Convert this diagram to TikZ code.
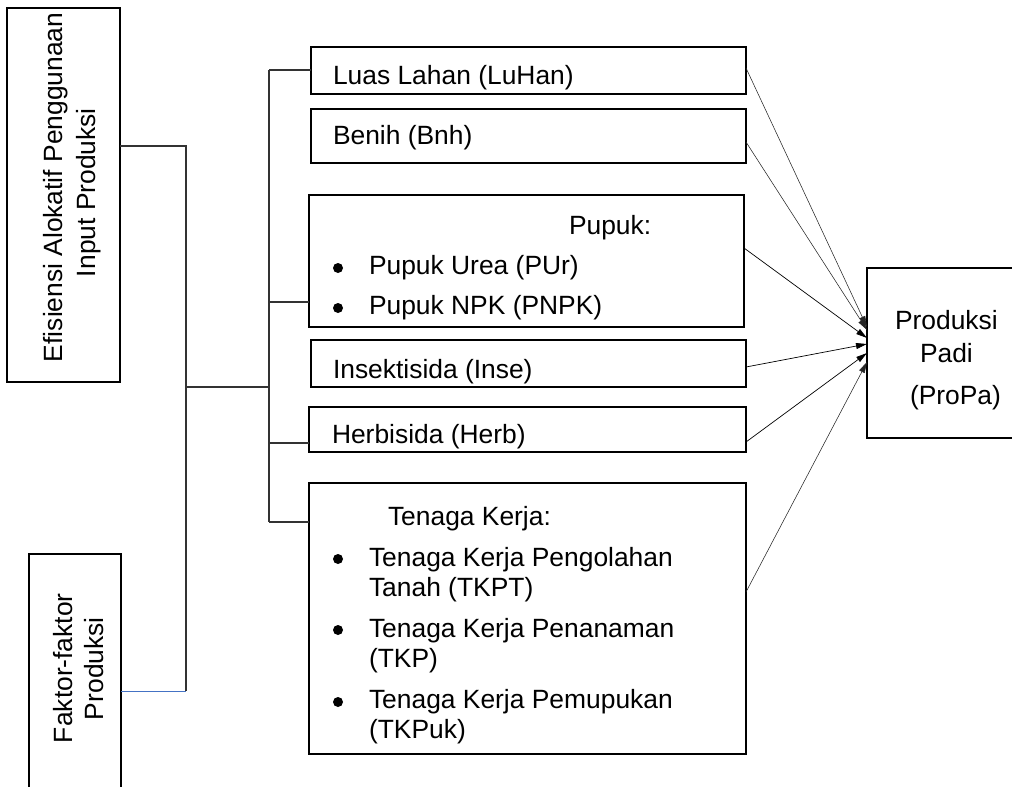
\documentclass[tikz,border=0pt]{standalone}
\usepackage{fontspec}
\setmainfont{Liberation Sans}
\usetikzlibrary{arrows.meta,calc}
\definecolor{wordblue}{RGB}{68,114,196}
\begin{document}
\begin{tikzpicture}[x=1bp,y=-1bp,
  box/.style={draw=black,line width=2.4bp,rectangle,inner sep=0pt,outer sep=0pt,anchor=north west},
  txt/.style={font=\fontsize{26.5pt}{30pt}\selectfont,inner sep=0pt,outer sep=0pt,anchor=base west},
  dot/.style={circle,fill=black,inner sep=0pt,minimum size=10bp},
  tree/.style={draw=black!80,line width=1.1bp},
  bluelink/.style={draw=wordblue,line width=1bp},
  arr/.style={draw=black,line width=0.7bp,-{Triangle[length=11bp,width=6bp]}},
  arrthin/.style={draw=black!85,line width=0.55bp,-{Triangle[length=11bp,width=6bp]}}]
\useasboundingbox (0,0) rectangle (1012,787);
\clip (0,0) rectangle (1012,787);

% boxes
\node[box,minimum width=113bp,minimum height=374bp] (efi) at (7,8) {};
\node[box,minimum width=92bp,minimum height=260bp] (fak) at (29,554) {};
\node[box,minimum width=435bp,minimum height=47bp] (luas) at (311,47) {};
\node[box,minimum width=435bp,minimum height=54bp] (benih) at (311,109) {};
\node[box,minimum width=435bp,minimum height=132bp] (pupuk) at (309,195) {};
\node[box,minimum width=435bp,minimum height=47bp] (inse) at (311,340) {};
\node[box,minimum width=437bp,minimum height=45bp] (herb) at (309,407) {};
\node[box,minimum width=437bp,minimum height=271bp] (tk) at (309,483) {};
\node[box,minimum width=170bp,minimum height=170bp] (prod) at (867,268) {};

% rotated texts
\node[txt,rotate=90] (efiA) at (62,362) {Efisiensi Alokatif Penggunaan};
\node[txt,rotate=90] (efiB) at (95,277) {Input Produksi};
\node[txt,rotate=90] (fakA) at (72,743) {Faktor-faktor};
\node[txt,rotate=90] (fakB) at (103,720) {Produksi};

% box texts
\node[txt] (tLuas) at (333,85) {Luas Lahan (LuHan)};
\node[txt] (tBenih) at (333,144) {Benih (Bnh)};
\node[txt] (tPupuk) at (569,234) {Pupuk:};
\node[dot] (d1) at (338,268) {};
\node[txt] (tPUr) at (369,274) {Pupuk Urea (PUr)};
\node[dot] (d2) at (338,308) {};
\node[txt] (tPNPK) at (369,314) {Pupuk NPK (PNPK)};
\node[txt] (tInse) at (333,378) {Insektisida (Inse)};
\node[txt] (tHerb) at (332,443) {Herbisida (Herb)};
\node[txt] (tTK) at (388,525) {Tenaga Kerja:};
\node[dot] (d3) at (338,559) {};
\node[txt] (tTK1) at (369,566) {Tenaga Kerja Pengolahan};
\node[txt] (tTK1b) at (369,596) {Tanah (TKPT)};
\node[dot] (d4) at (338,630) {};
\node[txt] (tTK2) at (369,637) {Tenaga Kerja Penanaman};
\node[txt] (tTK2b) at (369,667) {(TKP)};
\node[dot] (d5) at (338,702) {};
\node[txt] (tTK3) at (369,708) {Tenaga Kerja Pemupukan};
\node[txt] (tTK3b) at (369,738) {(TKPuk)};
\node[txt] (tProd1) at (895,329) {Produksi};
\node[txt] (tProd2) at (920,362) {Padi};
\node[txt] (tProd3) at (910,404) {(ProPa)};

% tree connectors
\coordinate (j1) at (186,146);
\coordinate (j2) at (186,691);
\coordinate (j3) at (186,387);
\coordinate (k0) at (269,387);
\coordinate (kL) at (269,70);
\coordinate (kP) at (269,302);
\coordinate (kH) at (269,443);
\coordinate (kT) at (269,522);
\draw[tree] (efi.north east |- j1) -- (j1) -- (j2);
\draw[bluelink] (fak.east |- j2) -- (j2);
\draw[tree] (j3) -- (k0);
\draw[tree] (kL) -- (kT);
\draw[tree] (kL) -- (luas.west |- kL);
\draw[tree] (kP) -- (pupuk.west |- kP);
\draw[tree] (kH) -- (herb.west |- kH);
\draw[tree] (kT) -- (tk.west |- kT);

% arrows into Produksi Padi
\coordinate (sL) at (746,68);
\coordinate (sB) at (746,142);
\coordinate (sP) at (745,248);
\coordinate (sI) at (746,367);
\coordinate (sH) at (746,442);
\coordinate (sT) at (746,592);
\coordinate (eL) at ($(prod.north west)+(0,59)$);
\coordinate (eB) at ($(prod.north west)+(0,62)$);
\coordinate (eP) at ($(prod.north west)+(0,70)$);
\coordinate (eI) at ($(prod.north west)+(0,76)$);
\coordinate (eH) at ($(prod.north west)+(0,85)$);
\coordinate (eT) at ($(prod.north west)+(0,94)$);
\draw[arrthin] (luas.east |- sL) -- (eL);
\draw[arrthin] (benih.east |- sB) -- (eB);
\draw[arr] (pupuk.east |- sP) -- (eP);
\draw[arr] (inse.east |- sI) -- (eI);
\draw[arr] (herb.east |- sH) -- (eH);
\draw[arrthin] (tk.east |- sT) -- (eT);
\end{tikzpicture}
\end{document}
